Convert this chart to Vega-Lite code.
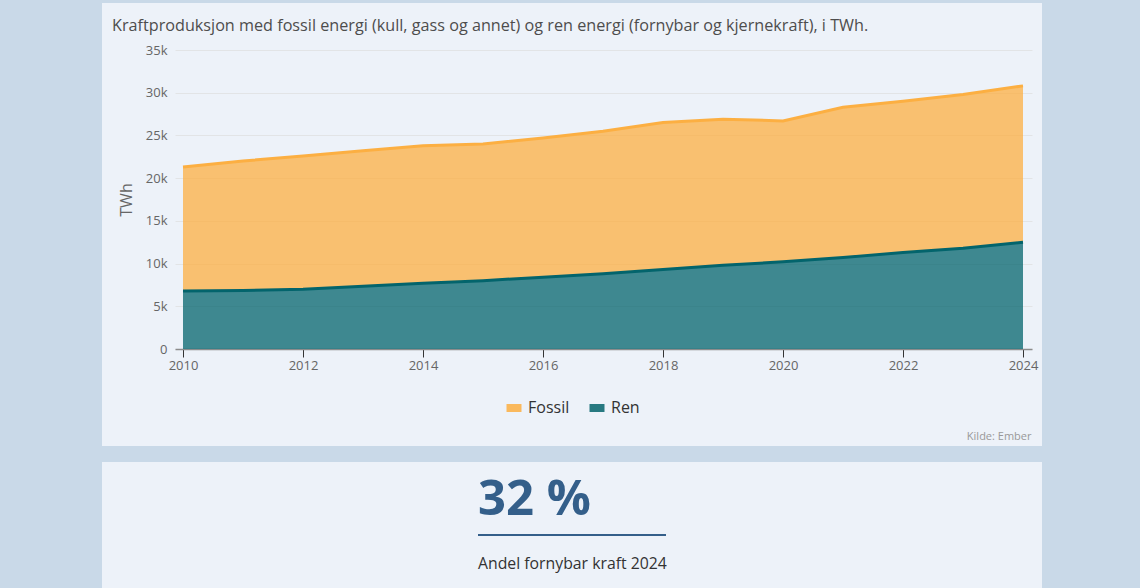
{
  "$schema": "https://vega.github.io/schema/vega-lite/v6.json",
  "background": "#c9d9e8",
  "padding": {"left": 102, "top": 3, "right": 98, "bottom": 0},
  "spacing": 16,
  "config": {"font": "Open Sans", "view": {"stroke": null}},
  "vconcat": [
    {
      "width": 940,
      "height": 443,
      "view": {"fill": "#edf2f9", "stroke": null},
      "title": {
        "text": "Kraftproduksjon med fossil energi (kull, gass og annet) og ren energi (fornybar og kjernekraft), i TWh.",
        "anchor": "start",
        "frame": "group",
        "dx": 10,
        "offset": -44,
        "baseline": "alphabetic",
        "fontSize": 16.2,
        "fontWeight": "normal",
        "font": "Open Sans",
        "color": "#4d4d4d"
      },
      "data": {
        "values": [
          {"år": 2010, "energi": "Ren", "TWh": 6800},
          {"år": 2011, "energi": "Ren", "TWh": 6850},
          {"år": 2012, "energi": "Ren", "TWh": 7000},
          {"år": 2013, "energi": "Ren", "TWh": 7350},
          {"år": 2014, "energi": "Ren", "TWh": 7700},
          {"år": 2015, "energi": "Ren", "TWh": 8000},
          {"år": 2016, "energi": "Ren", "TWh": 8400},
          {"år": 2017, "energi": "Ren", "TWh": 8800},
          {"år": 2018, "energi": "Ren", "TWh": 9300},
          {"år": 2019, "energi": "Ren", "TWh": 9800},
          {"år": 2020, "energi": "Ren", "TWh": 10200},
          {"år": 2021, "energi": "Ren", "TWh": 10700},
          {"år": 2022, "energi": "Ren", "TWh": 11300},
          {"år": 2023, "energi": "Ren", "TWh": 11800},
          {"år": 2024, "energi": "Ren", "TWh": 12500},
          {"år": 2010, "energi": "Fossil", "TWh": 14500},
          {"år": 2011, "energi": "Fossil", "TWh": 15150},
          {"år": 2012, "energi": "Fossil", "TWh": 15600},
          {"år": 2013, "energi": "Fossil", "TWh": 15850},
          {"år": 2014, "energi": "Fossil", "TWh": 16100},
          {"år": 2015, "energi": "Fossil", "TWh": 16000},
          {"år": 2016, "energi": "Fossil", "TWh": 16300},
          {"år": 2017, "energi": "Fossil", "TWh": 16700},
          {"år": 2018, "energi": "Fossil", "TWh": 17200},
          {"år": 2019, "energi": "Fossil", "TWh": 17100},
          {"år": 2020, "energi": "Fossil", "TWh": 16500},
          {"år": 2021, "energi": "Fossil", "TWh": 17600},
          {"år": 2022, "energi": "Fossil", "TWh": 17700},
          {"år": 2023, "energi": "Fossil", "TWh": 18000},
          {"år": 2024, "energi": "Fossil", "TWh": 18300}
        ]
      },
      "mark": {"type": "area", "fillOpacity": 0.75, "line": {"strokeWidth": 3}},
      "encoding": {
        "x": {
          "field": "år",
          "type": "quantitative",
          "scale": {"domain": [2009.8667, 2024.15], "range": [73, 930], "nice": false, "zero": false},
          "axis": {
            "title": "Kilde: Ember",
            "titleFontSize": 11,
            "titleFontWeight": "normal",
            "titleColor": "#999999",
            "titleAlign": "right",
            "titleBaseline": "alphabetic",
            "titleAnchor": "end",
            "titleX": 929,
            "titleY": 90,
            "values": [2010, 2012, 2014, 2016, 2018, 2020, 2022, 2024],
            "format": "d",
            "labelFontSize": 13,
            "labelColor": "#666666",
            "labelFlush": false,
            "labelPadding": 2,
            "tickColor": "#333333",
            "tickSize": 8,
            "domainColor": "#8c8c8c",
            "domainWidth": 1.5,
            "grid": false,
            "offset": -97
          }
        },
        "y": {
          "field": "TWh",
          "type": "quantitative",
          "stack": "zero",
          "scale": {"domain": [0, 35000], "range": [346, 47], "nice": false},
          "axis": {
            "title": "TWh",
            "titleFontSize": 16,
            "titleFontWeight": "normal",
            "titleColor": "#666666",
            "titlePadding": 11,
            "values": [0, 5000, 10000, 15000, 20000, 25000, 30000, 35000],
            "labelExpr": "datum.value == 0 ? '0' : format(datum.value / 1000, 'd') + 'k'",
            "labelFontSize": 13,
            "labelColor": "#666666",
            "labelPadding": 8,
            "labelFlush": false,
            "ticks": false,
            "domain": false,
            "grid": true,
            "gridColor": "#e2e4e6",
            "offset": -73
          }
        },
        "color": {
          "field": "energi",
          "type": "nominal",
          "scale": {"domain": ["Fossil", "Ren"], "range": ["#fcaf42", "#03646c"]},
          "legend": {
            "title": null,
            "orient": "none",
            "direction": "horizontal",
            "legendX": 404,
            "legendY": 397,
            "symbolType": "M-1,-0.53H1V0.53H-1Z",
            "symbolSize": 225,
            "symbolStrokeWidth": 0,
            "symbolOpacity": 0.85,
            "labelFontSize": 16,
            "labelColor": "#333333",
            "labelOffset": 6,
            "columnPadding": 19
          }
        },
        "order": {"field": "energi", "sort": "descending"}
      }
    },
    {
      "width": 940,
      "height": 126,
      "view": {"fill": "#edf2f9", "stroke": null},
      "data": {"values": [{"andel": "32 %", "tekst": "Andel fornybar kraft 2024"}]},
      "layer": [
        {
          "mark": {"type": "text", "align": "left", "baseline": "alphabetic", "fontSize": 49, "fontWeight": "bold", "color": "#345f8a"},
          "encoding": {
            "x": {"datum": 0.4, "type": "quantitative", "scale": {"domain": [0, 1], "nice": false, "zero": false}, "axis": null},
            "y": {"datum": 0.583, "type": "quantitative", "scale": {"domain": [0, 1], "nice": false, "zero": false}, "axis": null},
            "text": {"field": "andel"}
          }
        },
        {
          "mark": {"type": "rule", "color": "#345f8a", "strokeWidth": 2},
          "encoding": {
            "x": {"datum": 0.4, "type": "quantitative"},
            "x2": {"datum": 0.6},
            "y": {"datum": 0.421, "type": "quantitative"}
          }
        },
        {
          "mark": {"type": "text", "align": "left", "baseline": "alphabetic", "fontSize": 15.8, "color": "#333333"},
          "encoding": {
            "x": {"datum": 0.4, "type": "quantitative"},
            "y": {"datum": 0.151, "type": "quantitative"},
            "text": {"field": "tekst"}
          }
        }
      ]
    }
  ]
}
